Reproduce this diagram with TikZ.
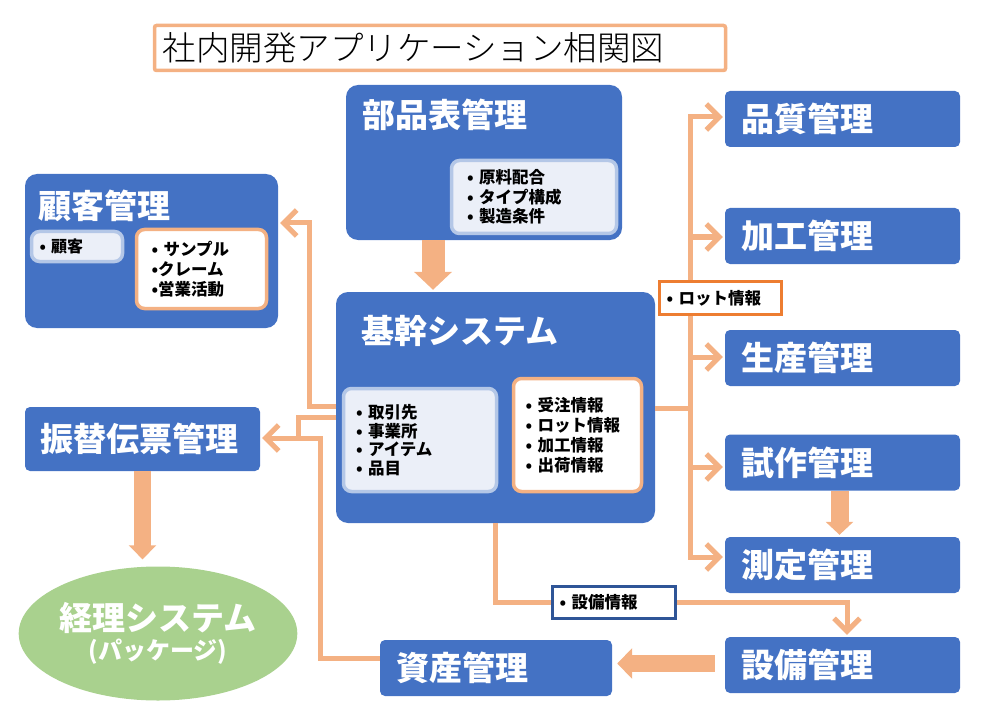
\documentclass[tikz,border=0pt]{standalone}
\usepackage{fontspec}
\setmainfont{Noto Sans CJK JP}
\newfontfamily\thinfont{Noto Sans CJK JP Light}
\usetikzlibrary{arrows.meta, shapes.geometric}

\definecolor{boxblue}{HTML}{4472C4}
\definecolor{peach}{HTML}{F4B183}
\definecolor{paleblue}{HTML}{EBEFF8}
\definecolor{edgeblue}{HTML}{B4C7E7}
\definecolor{lotorange}{HTML}{ED7D31}
\definecolor{navy}{HTML}{2F5597}
\definecolor{leaf}{HTML}{A9D18E}

\tikzset{
	sys/.style={fill=boxblue, rounded corners=12pt, inner sep=0pt},
	app/.style={fill=boxblue, rounded corners=5pt, minimum width=235pt, minimum height=56pt,
		text width=203pt, align=left, inner xsep=16pt, inner ysep=0pt, text=white,
		font=\fontsize{33}{33}\selectfont\bfseries},
	ttl/.style={anchor=west, inner sep=0pt, text=white, font=\fontsize{33}{33}\selectfont\bfseries},
	blist/.style={fill=paleblue, draw=edgeblue, line width=3.5pt, rounded corners=8pt,
		align=left, inner ysep=0pt, font=\fontsize{16.5}{19.5}\selectfont\bfseries},
	olist/.style={fill=white, draw=peach, line width=3.5pt, rounded corners=8pt,
		align=left, inner ysep=0pt, font=\fontsize{16.5}{20}\selectfont\bfseries},
	tag/.style={fill=white, line width=3pt, align=left, inner ysep=0pt,
		font=\fontsize{16.5}{16.5}\selectfont\bfseries},
	wire/.style={draw=peach, line width=5pt},
	flow/.style={wire, shorten >=2pt, -{Straight Barb[length=13pt,width=26pt]}},
	elbow/.style={to path={|- (\tikztotarget)}},
	fat/.style={draw=peach, line width=#1}
}

\begin{document}
\begin{tikzpicture}[x=1pt, y=-1pt]
	\useasboundingbox (0,0) rectangle (1000,719);

	% title
	\node [draw=peach, line width=3.5pt, rounded corners=2pt, minimum width=571pt, minimum height=45pt,
		text width=555pt, align=left, inner xsep=8pt, inner ysep=0pt,
		font=\thinfont\fontsize{33.5}{33.5}\selectfont] (hdr) at (440,48) {社内開発アプリケーション相関図};

	% main systems
	\node [sys, minimum width=276pt, minimum height=155pt] (bom) at (484,162.5) {};
	\node [ttl] (bomT) at (362,115) {部品表管理};
	\node [blist, minimum width=165pt, minimum height=73pt, text width=134pt, inner xsep=14pt] (bomL) at (534,197)
		{• 原料配合\\• タイプ構成\\• 製造条件};

	\node [sys, minimum width=253pt, minimum height=154pt] (crm) at (151.5,251) {};
	\node [ttl] (crmT) at (38,206) {顧客管理};
	\node [blist, minimum width=91pt, minimum height=30pt, text width=75pt, inner xsep=6pt,
		font=\fontsize{16}{16}\selectfont\bfseries] (crmL) at (77,246.5) {• 顧客};
	\node [olist, minimum width=130pt, minimum height=79pt, text width=100pt, inner xsep=15pt] (crmR) at (201.5,269)
		{• サンプル\\•クレーム\\•営業活動};

	\node [sys, minimum width=319pt, minimum height=231pt] (core) at (495.5,407.5) {};
	\node [ttl] (coreT) at (361,330.5) {基幹システム};
	\node [blist, minimum width=153pt, minimum height=103pt, text width=128pt, inner xsep=12.5pt,
		font=\fontsize{16.5}{18.5}\selectfont\bfseries] (coreL) at (420,440)
		{• 取引先\\• 事業所\\• アイテム\\• 品目};
	\node [olist, minimum width=128pt, minimum height=113pt, text width=104pt, inner xsep=12pt] (coreR) at (577.5,435)
		{• 受注情報\\• ロット情報\\• 加工情報\\• 出荷情報};

	\node [app, minimum width=235pt, minimum height=64pt, text width=205pt, inner xsep=15pt] (transfer) at (142.5,439) {振替伝票管理};
	\node [ellipse, fill=leaf, minimum width=270pt, minimum height=134pt, inner sep=0pt, text=white, align=center,
		font=\bfseries] (acct) at (158,633.5)
		{\fontsize{33}{33}\selectfont 経理システム\\[4pt]\fontsize{24}{24}\selectfont (パッケージ)};
	\node [app, minimum width=232pt, text width=200pt] (asset) at (496,668) {資産管理};

	% right column
	\node [app] (qc) at (842.5,119) {品質管理};
	\node [app] (proc) at (842.5,236) {加工管理};
	\node [app] (prod) at (842.5,358) {生産管理};
	\node [app] (proto) at (842.5,462.5) {試作管理};
	\node [app] (meas) at (842.5,565) {測定管理};
	\node [app] (equip) at (842.5,665) {設備管理};

	% thick arrows
	\draw [fat=23pt, -{Triangle[length=18pt,width=37pt]}] ([xshift=-51pt]bom.south) -- ([xshift=-51pt,yshift=2pt]bom.south |- core.north);
	\draw [fat=17pt, -{Triangle[length=14pt,width=27pt]}] (transfer.south) -- ([yshift=7pt]transfer.south |- acct.north);
	\draw [fat=18pt, -{Triangle[length=13pt,width=27pt]}] ([xshift=-3pt]proto.south) -- ([xshift=-3pt,yshift=2pt]meas.north);
	\draw [fat=17pt, -{Triangle[length=15pt,width=30pt]}] ([xshift=-10pt,yshift=1.5pt]equip.west) -- ([xshift=5pt]asset.east |- 0,663.5);

	% connectors to the left
	\coordinate (bk1) at (309,223);
	\coordinate (bk2) at (298,438);
	\coordinate (bk3) at (320,438);
	\draw [flow] ([yshift=1pt]core.west) -| (bk1) -- (bk1 -| crm.east);
	\draw [flow] ([yshift=-10pt]core.west) -| (bk2) -- (bk2 -| transfer.east);
	\draw [wire] ([yshift=10pt]asset.west) -| (bk3) -- (bk2);

	% connectors to the right
	\coordinate (bus) at (690,408);
	\draw [wire] (bus -| core.east) -- (bus);
	\path
	(bus) edge [flow, elbow] ([yshift=2pt]qc.west)
	edge [flow, elbow] ([yshift=-1pt]proc.west)
	edge [flow, elbow] ([yshift=1pt]prod.west)
	edge [flow, elbow] ([yshift=-4.5pt]proto.west)
	edge [flow, elbow] ([yshift=8pt]meas.west);

	\coordinate (bk4) at (847,602);
	\draw [flow] (core.south) |- (bk4) -- (bk4 |- equip.north);

	% data labels
	\node [tag, draw=lotorange, minimum width=122pt, minimum height=33pt, text width=108pt, inner xsep=7pt] (lot) at (720.5,298) {• ロット情報};
	\node [tag, draw=navy, minimum width=123pt, minimum height=32pt, text width=109pt, inner xsep=7pt] (eqinfo) at (614,602.5) {• 設備情報};
\end{tikzpicture}
\end{document}
